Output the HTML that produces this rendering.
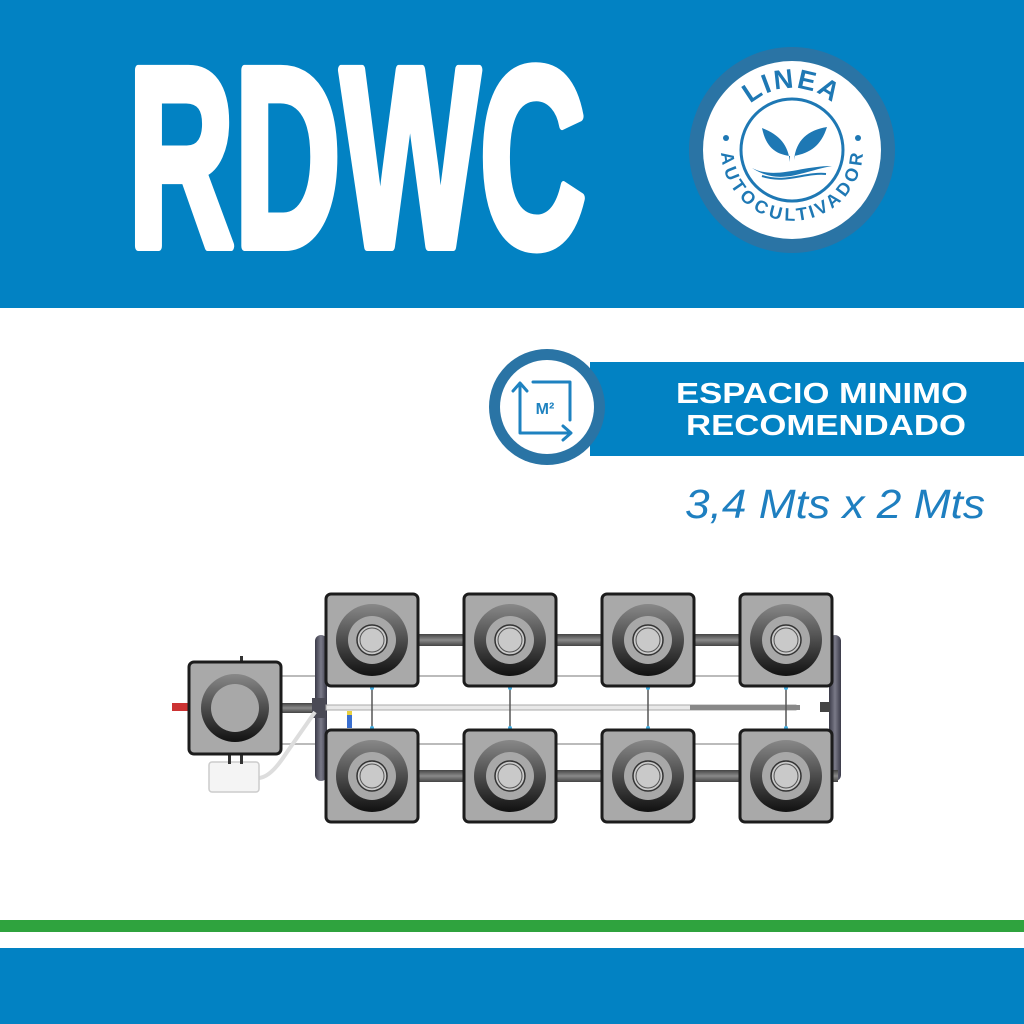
<!DOCTYPE html>
<html><head><meta charset="utf-8"><style>
html,body{margin:0;padding:0;background:#fff}
svg{display:block}
</style></head><body>
<svg width="1024" height="1024" viewBox="0 0 1024 1024" xmlns="http://www.w3.org/2000/svg">
<defs>
<linearGradient id="ringl" x1="0" y1="0" x2="0" y2="1">
<stop offset="0" stop-color="#888"/><stop offset="1" stop-color="#111"/>
</linearGradient>
<linearGradient id="pipe" x1="0" y1="0" x2="0" y2="1">
<stop offset="0" stop-color="#444"/><stop offset="0.5" stop-color="#8a8a8a"/><stop offset="1" stop-color="#444"/>
</linearGradient>
<linearGradient id="vpipe" x1="0" y1="0" x2="1" y2="0">
<stop offset="0" stop-color="#3a3a48"/><stop offset="0.5" stop-color="#7a7a88"/><stop offset="1" stop-color="#3a3a48"/>
</linearGradient>
<g id="pot">
<rect x="-46" y="-46" width="92" height="92" rx="5" fill="#a9a9a9" stroke="#1c1c1c" stroke-width="3"/>
<circle r="36" fill="url(#ringl)"/>
<circle r="24" fill="#a8a8a8"/>
<circle r="15" fill="#c9c9c9" stroke="#333" stroke-width="1.5"/>
<circle r="12" fill="none" stroke="#555" stroke-width="1"/>
</g>
</defs>
<rect x="0" y="0" width="1024" height="308" fill="#0282c3"/>
<text x="128" y="246" font-family="Liberation Sans, sans-serif" font-weight="bold" font-size="256" fill="#fff" stroke="#fff" stroke-width="10" stroke-linejoin="round" textLength="458" lengthAdjust="spacingAndGlyphs">RDWC</text>
<circle cx="792" cy="150" r="103" fill="#2a74a5"/>
<circle cx="792" cy="150" r="89" fill="#fff"/>
<circle cx="792" cy="150" r="51" fill="none" stroke="#1e78b4" stroke-width="3"/>
<path id="arcTop" d="M730,150 A62,62 0 0 1 854,150" fill="none"/>
<path id="arcBot" d="M734,150 A58,58 0 0 0 850,150" fill="none"/>
<text font-family="Liberation Sans, sans-serif" font-weight="bold" font-size="27" fill="#1e78b4" letter-spacing="2"><textPath href="#arcTop" startOffset="50%" text-anchor="middle">LINEA</textPath></text>
<text font-family="Liberation Sans, sans-serif" font-weight="bold" font-size="18" fill="#1e78b4" letter-spacing="1"><textPath href="#arcBot" startOffset="50%" text-anchor="middle" dominant-baseline="hanging">AUTOCULTIVADOR</textPath></text>
<circle cx="726" cy="138" r="3" fill="#1e78b4"/><circle cx="858" cy="138" r="3" fill="#1e78b4"/>
<path d="M790,162 C788,145 780,135 762,128 C766,147 775,154 790,156 Z M794,160 C796,140 808,130 827,127 C821,146 810,153 794,156 Z" fill="#1e78b4"/>
<path d="M752,168 C775,180 800,166 832,166 C800,172 780,186 752,168 Z" fill="#1e78b4"/>
<path d="M762,176 C785,184 805,172 826,174" fill="none" stroke="#1e78b4" stroke-width="2"/>
<rect x="590" y="362" width="434" height="94" fill="#0282c3"/>
<circle cx="547" cy="407" r="58" fill="#2a74a5"/>
<circle cx="547" cy="407" r="47" fill="#fff"/>
<g stroke="#1e82c0" stroke-width="3" fill="none" stroke-linecap="round" stroke-linejoin="round">
<path d="M533,382 H570 V420"/><path d="M520,385 V433 H570"/>
<path d="M513,391 L520,383 L527,391"/><path d="M563,426 L571,433 L563,440"/>
</g>
<text x="545" y="414" font-family="Liberation Sans, sans-serif" font-weight="bold" font-size="16" fill="#1e82c0" text-anchor="middle">M²</text>
<text x="822" y="403" font-family="Liberation Sans, sans-serif" font-weight="bold" font-size="29" fill="#fff" text-anchor="middle" textLength="292" lengthAdjust="spacingAndGlyphs">ESPACIO MINIMO</text>
<text x="826" y="435" font-family="Liberation Sans, sans-serif" font-weight="bold" font-size="29" fill="#fff" text-anchor="middle" textLength="280" lengthAdjust="spacingAndGlyphs">RECOMENDADO</text>
<text x="685" y="518" font-family="Liberation Sans, sans-serif" font-style="italic" font-size="41" fill="#1e7fc0" textLength="300" lengthAdjust="spacingAndGlyphs">3,4 Mts x 2 Mts</text>
<g>
<line x1="281" y1="676" x2="830" y2="676" stroke="#bbb" stroke-width="2"/>
<line x1="281" y1="744" x2="830" y2="744" stroke="#bbb" stroke-width="2"/>
<rect x="315" y="635" width="12" height="146" rx="6" fill="url(#vpipe)"/>
<rect x="829" y="635" width="12" height="146" rx="6" fill="url(#vpipe)"/>
<rect x="418" y="634" width="400" height="12" fill="url(#pipe)"/>
<rect x="418" y="770" width="420" height="12" fill="url(#pipe)"/>
<rect x="281" y="703" width="45" height="10" fill="url(#pipe)"/>
<rect x="312" y="698" width="14" height="20" fill="#4a4a55"/>
<rect x="326" y="705" width="470" height="5" fill="#e8e8e8" stroke="#aaa" stroke-width="1"/>
<rect x="690" y="705" width="110" height="5" fill="#888"/>
<rect x="820" y="702" width="10" height="10" fill="#444"/>
<g stroke="#555" stroke-width="1.5">
<line x1="372" y1="688" x2="372" y2="728"/><line x1="510" y1="688" x2="510" y2="728"/>
<line x1="648" y1="688" x2="648" y2="728"/><line x1="786" y1="688" x2="786" y2="728"/>
</g>
<g fill="#3fa9dd">
<circle cx="372" cy="688" r="2"/><circle cx="372" cy="728" r="2"/><circle cx="510" cy="688" r="2"/><circle cx="510" cy="728" r="2"/>
<circle cx="648" cy="688" r="2"/><circle cx="648" cy="728" r="2"/><circle cx="786" cy="688" r="2"/><circle cx="786" cy="728" r="2"/>
</g>
<rect x="347" y="714" width="5" height="14" fill="#3a6fd0"/><rect x="347" y="711" width="5" height="4" fill="#e8d040"/>
<path d="M315,712 L285,755 Q270,778 258,778" fill="none" stroke="#ddd" stroke-width="4"/>
<rect x="209" y="762" width="50" height="30" rx="3" fill="#f4f4f4" stroke="#ccc" stroke-width="1.5"/>
<rect x="228" y="754" width="3" height="10" fill="#333"/><rect x="240" y="754" width="3" height="10" fill="#333"/>
<rect x="172" y="703" width="18" height="8" fill="#c33"/>
<rect x="240" y="656" width="3" height="8" fill="#333"/>
<rect x="189" y="662" width="92" height="92" rx="5" fill="#a9a9a9" stroke="#1c1c1c" stroke-width="3"/>
<circle cx="235" cy="708" r="34" fill="url(#ringl)"/>
<circle cx="235" cy="708" r="24" fill="#a8a8a8"/>
<use href="#pot" x="372" y="640"/><use href="#pot" x="510" y="640"/><use href="#pot" x="648" y="640"/><use href="#pot" x="786" y="640"/>
<use href="#pot" x="372" y="776"/><use href="#pot" x="510" y="776"/><use href="#pot" x="648" y="776"/><use href="#pot" x="786" y="776"/>
</g>
<rect x="0" y="920" width="1024" height="12" fill="#2fa33e"/>
<rect x="0" y="948" width="1024" height="76" fill="#0282c3"/>
</svg>
</body></html>
